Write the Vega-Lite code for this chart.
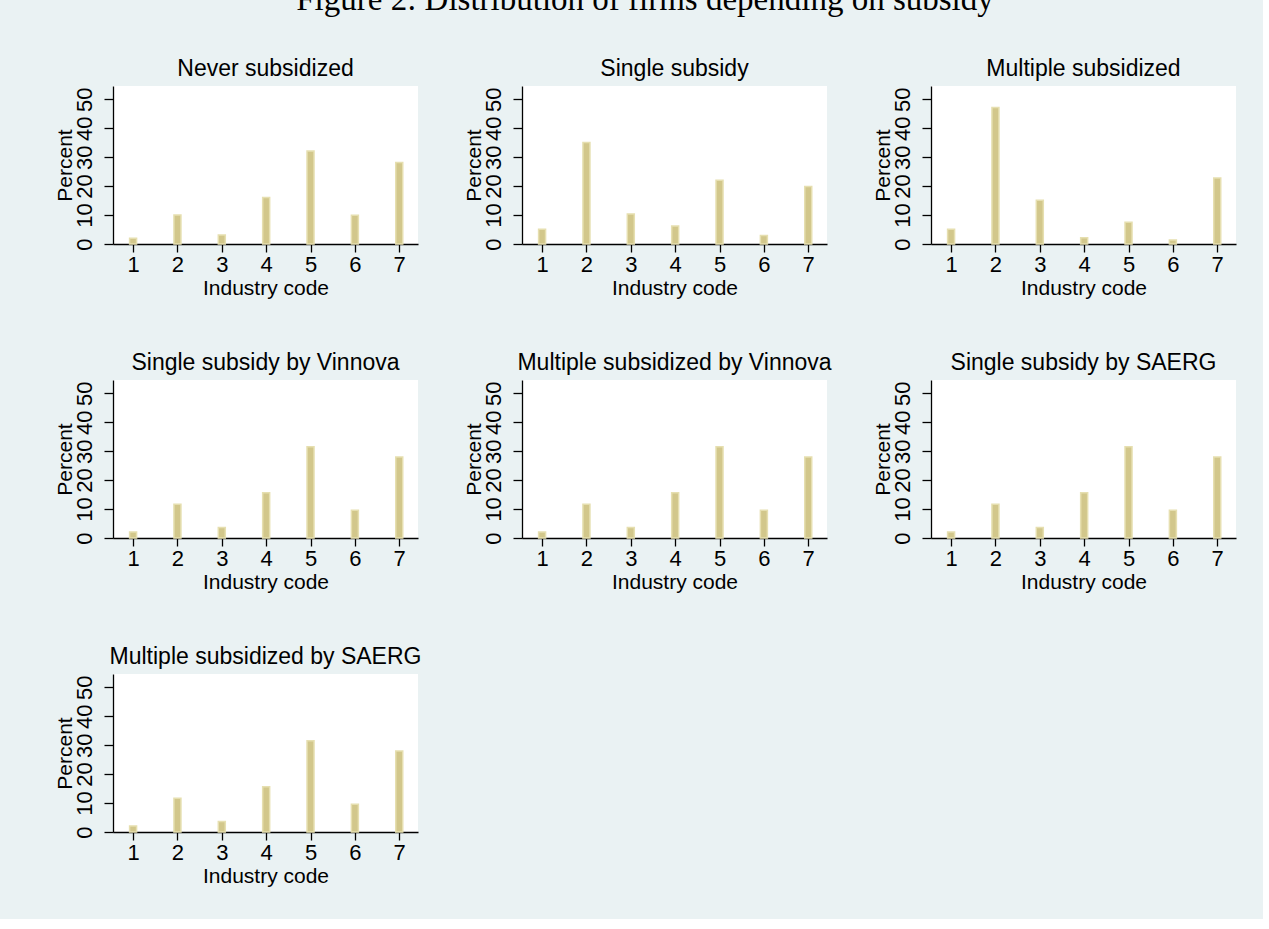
{
  "$schema": "https://vega.github.io/schema/vega-lite/v6.json",
  "background": "#eaf2f3",
  "padding": {"left": 54, "top": -16, "right": 27, "bottom": 33},
  "title": {"text": "Figure 2: Distribution of firms depending on subsidy", "font": "Liberation Serif", "fontSize": 33, "fontWeight": "normal", "anchor": "middle", "baseline": "alphabetic", "offset": 15, "color": "black"},
  "data": {"values": [
    {"group": "Never subsidized", "code": 1, "pct": 2.0},
    {"group": "Never subsidized", "code": 2, "pct": 10.0},
    {"group": "Never subsidized", "code": 3, "pct": 3.1},
    {"group": "Never subsidized", "code": 4, "pct": 16.1},
    {"group": "Never subsidized", "code": 5, "pct": 32.1},
    {"group": "Never subsidized", "code": 6, "pct": 9.9},
    {"group": "Never subsidized", "code": 7, "pct": 28.2},
    {"group": "Single subsidy", "code": 1, "pct": 5.1},
    {"group": "Single subsidy", "code": 2, "pct": 35.1},
    {"group": "Single subsidy", "code": 3, "pct": 10.4},
    {"group": "Single subsidy", "code": 4, "pct": 6.2},
    {"group": "Single subsidy", "code": 5, "pct": 22.0},
    {"group": "Single subsidy", "code": 6, "pct": 2.9},
    {"group": "Single subsidy", "code": 7, "pct": 19.9},
    {"group": "Multiple subsidized", "code": 1, "pct": 5.1},
    {"group": "Multiple subsidized", "code": 2, "pct": 47.2},
    {"group": "Multiple subsidized", "code": 3, "pct": 15.1},
    {"group": "Multiple subsidized", "code": 4, "pct": 2.2},
    {"group": "Multiple subsidized", "code": 5, "pct": 7.5},
    {"group": "Multiple subsidized", "code": 6, "pct": 1.4},
    {"group": "Multiple subsidized", "code": 7, "pct": 22.8},
    {"group": "Single subsidy by Vinnova", "code": 1, "pct": 2.1},
    {"group": "Single subsidy by Vinnova", "code": 2, "pct": 11.7},
    {"group": "Single subsidy by Vinnova", "code": 3, "pct": 3.6},
    {"group": "Single subsidy by Vinnova", "code": 4, "pct": 15.6},
    {"group": "Single subsidy by Vinnova", "code": 5, "pct": 31.5},
    {"group": "Single subsidy by Vinnova", "code": 6, "pct": 9.6},
    {"group": "Single subsidy by Vinnova", "code": 7, "pct": 28.0},
    {"group": "Multiple subsidized by Vinnova", "code": 1, "pct": 2.1},
    {"group": "Multiple subsidized by Vinnova", "code": 2, "pct": 11.7},
    {"group": "Multiple subsidized by Vinnova", "code": 3, "pct": 3.6},
    {"group": "Multiple subsidized by Vinnova", "code": 4, "pct": 15.6},
    {"group": "Multiple subsidized by Vinnova", "code": 5, "pct": 31.5},
    {"group": "Multiple subsidized by Vinnova", "code": 6, "pct": 9.6},
    {"group": "Multiple subsidized by Vinnova", "code": 7, "pct": 28.0},
    {"group": "Single subsidy by SAERG", "code": 1, "pct": 2.1},
    {"group": "Single subsidy by SAERG", "code": 2, "pct": 11.7},
    {"group": "Single subsidy by SAERG", "code": 3, "pct": 3.6},
    {"group": "Single subsidy by SAERG", "code": 4, "pct": 15.6},
    {"group": "Single subsidy by SAERG", "code": 5, "pct": 31.5},
    {"group": "Single subsidy by SAERG", "code": 6, "pct": 9.6},
    {"group": "Single subsidy by SAERG", "code": 7, "pct": 28.0},
    {"group": "Multiple subsidized by SAERG", "code": 1, "pct": 2.1},
    {"group": "Multiple subsidized by SAERG", "code": 2, "pct": 11.7},
    {"group": "Multiple subsidized by SAERG", "code": 3, "pct": 3.6},
    {"group": "Multiple subsidized by SAERG", "code": 4, "pct": 15.6},
    {"group": "Multiple subsidized by SAERG", "code": 5, "pct": 31.5},
    {"group": "Multiple subsidized by SAERG", "code": 6, "pct": 9.6},
    {"group": "Multiple subsidized by SAERG", "code": 7, "pct": 28.0}
  ]},
  "columns": 3,
  "spacing": {"row": 136, "column": 104},
  "bounds": "flush",
  "concat": [
    {"title": "Never subsidized", "width": 305, "height": 158,
     "transform": [{"filter": "datum.group === 'Never subsidized'"}],
     "mark": {"type": "bar", "orient": "vertical", "width": 7, "fill": "#d2c78b", "stroke": "#e6dfb0", "strokeWidth": 1.5},
     "encoding": {
       "x": {"field": "code", "type": "quantitative", "scale": {"domain": [0.66, 7.31], "nice": false, "zero": false}, "axis": {"title": "Industry code", "values": [1,2,3,4,5,6,7], "format": "d"}},
       "y": {"field": "pct", "type": "quantitative", "scale": {"domain": [0, 54.6], "nice": false}, "axis": {"title": "Percent", "values": [0,10,20,30,40,50]}}
     }},
    {"title": "Single subsidy", "width": 305, "height": 158,
     "transform": [{"filter": "datum.group === 'Single subsidy'"}],
     "mark": {"type": "bar", "orient": "vertical", "width": 7, "fill": "#d2c78b", "stroke": "#e6dfb0", "strokeWidth": 1.5},
     "encoding": {
       "x": {"field": "code", "type": "quantitative", "scale": {"domain": [0.66, 7.31], "nice": false, "zero": false}, "axis": {"title": "Industry code", "values": [1,2,3,4,5,6,7], "format": "d"}},
       "y": {"field": "pct", "type": "quantitative", "scale": {"domain": [0, 54.6], "nice": false}, "axis": {"title": "Percent", "values": [0,10,20,30,40,50]}}
     }},
    {"title": "Multiple subsidized", "width": 305, "height": 158,
     "transform": [{"filter": "datum.group === 'Multiple subsidized'"}],
     "mark": {"type": "bar", "orient": "vertical", "width": 7, "fill": "#d2c78b", "stroke": "#e6dfb0", "strokeWidth": 1.5},
     "encoding": {
       "x": {"field": "code", "type": "quantitative", "scale": {"domain": [0.66, 7.31], "nice": false, "zero": false}, "axis": {"title": "Industry code", "values": [1,2,3,4,5,6,7], "format": "d"}},
       "y": {"field": "pct", "type": "quantitative", "scale": {"domain": [0, 54.6], "nice": false}, "axis": {"title": "Percent", "values": [0,10,20,30,40,50]}}
     }},
    {"title": "Single subsidy by Vinnova", "width": 305, "height": 158,
     "transform": [{"filter": "datum.group === 'Single subsidy by Vinnova'"}],
     "mark": {"type": "bar", "orient": "vertical", "width": 7, "fill": "#d2c78b", "stroke": "#e6dfb0", "strokeWidth": 1.5},
     "encoding": {
       "x": {"field": "code", "type": "quantitative", "scale": {"domain": [0.66, 7.31], "nice": false, "zero": false}, "axis": {"title": "Industry code", "values": [1,2,3,4,5,6,7], "format": "d"}},
       "y": {"field": "pct", "type": "quantitative", "scale": {"domain": [0, 54.6], "nice": false}, "axis": {"title": "Percent", "values": [0,10,20,30,40,50]}}
     }},
    {"title": "Multiple subsidized by Vinnova", "width": 305, "height": 158,
     "transform": [{"filter": "datum.group === 'Multiple subsidized by Vinnova'"}],
     "mark": {"type": "bar", "orient": "vertical", "width": 7, "fill": "#d2c78b", "stroke": "#e6dfb0", "strokeWidth": 1.5},
     "encoding": {
       "x": {"field": "code", "type": "quantitative", "scale": {"domain": [0.66, 7.31], "nice": false, "zero": false}, "axis": {"title": "Industry code", "values": [1,2,3,4,5,6,7], "format": "d"}},
       "y": {"field": "pct", "type": "quantitative", "scale": {"domain": [0, 54.6], "nice": false}, "axis": {"title": "Percent", "values": [0,10,20,30,40,50]}}
     }},
    {"title": "Single subsidy by SAERG", "width": 305, "height": 158,
     "transform": [{"filter": "datum.group === 'Single subsidy by SAERG'"}],
     "mark": {"type": "bar", "orient": "vertical", "width": 7, "fill": "#d2c78b", "stroke": "#e6dfb0", "strokeWidth": 1.5},
     "encoding": {
       "x": {"field": "code", "type": "quantitative", "scale": {"domain": [0.66, 7.31], "nice": false, "zero": false}, "axis": {"title": "Industry code", "values": [1,2,3,4,5,6,7], "format": "d"}},
       "y": {"field": "pct", "type": "quantitative", "scale": {"domain": [0, 54.6], "nice": false}, "axis": {"title": "Percent", "values": [0,10,20,30,40,50]}}
     }},
    {"title": "Multiple subsidized by SAERG", "width": 305, "height": 158,
     "transform": [{"filter": "datum.group === 'Multiple subsidized by SAERG'"}],
     "mark": {"type": "bar", "orient": "vertical", "width": 7, "fill": "#d2c78b", "stroke": "#e6dfb0", "strokeWidth": 1.5},
     "encoding": {
       "x": {"field": "code", "type": "quantitative", "scale": {"domain": [0.66, 7.31], "nice": false, "zero": false}, "axis": {"title": "Industry code", "values": [1,2,3,4,5,6,7], "format": "d"}},
       "y": {"field": "pct", "type": "quantitative", "scale": {"domain": [0, 54.6], "nice": false}, "axis": {"title": "Percent", "values": [0,10,20,30,40,50]}}
     }}
  ],
  "config": {
    "font": "Liberation Sans",
    "view": {"fill": "white", "stroke": null},
    "axis": {"domainColor": "black", "tickColor": "black", "labelColor": "black", "titleColor": "black", "grid": false, "labelFontSize": 22, "titleFontSize": 21, "titleFontWeight": "normal", "tickSize": 9, "domainWidth": 1.3, "tickWidth": 1.3, "labelFlush": false, "labelOverlap": false},
    "axisY": {"labelAngle": -90, "labelAlign": "center", "labelBaseline": "bottom", "labelPadding": 8, "titlePadding": -2},
    "axisX": {"tickSize": 8, "labelPadding": 2, "titlePadding": 2},
    "title": {"fontSize": 23, "fontWeight": "normal", "color": "black", "anchor": "middle", "offset": 5}
  }
}
